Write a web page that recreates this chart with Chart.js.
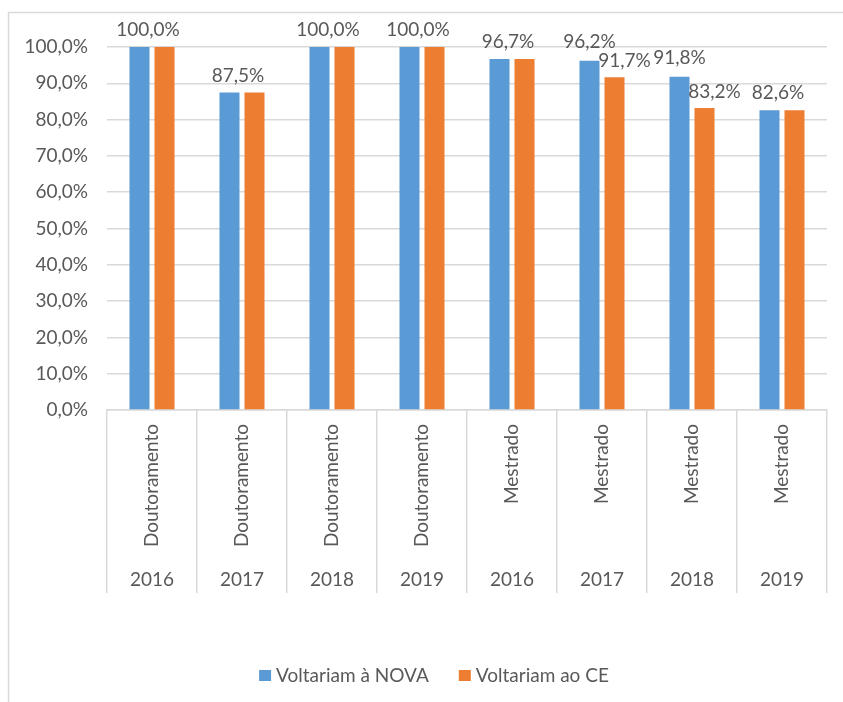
<!DOCTYPE html>
<html>
<head>
<meta charset="utf-8">
<script src="https://cdn.jsdelivr.net/npm/chart.js@4"></script>
<style>
    html, body { margin: 0; padding: 0; background: #ffffff; }
    #wrap { width: 843px; height: 702px; position: relative; }
</style>
</head>
<body>
<div id="wrap"><canvas id="chart" width="843" height="702"></canvas></div>
<script>
const degrees = ['Doutoramento', 'Doutoramento', 'Doutoramento', 'Doutoramento', 'Mestrado', 'Mestrado', 'Mestrado', 'Mestrado']
const years = ['2016', '2017', '2018', '2019', '2016', '2017', '2018', '2019']
const voltariamNova = [100, 87.5, 100, 100, 96.7, 96.2, 91.8, 82.6]
const voltariamCe = [100, 87.5, 100, 100, 96.7, 91.7, 83.2, 82.6]
const seriesNames = ['Voltariam à NOVA', 'Voltariam ao CE']

const FONT = 'Lato, "Open Sans", sans-serif'
const FONT_SIZE = 19
const TEXT_COLOR = '#595959'
const LINE_COLOR = '#D9D9D9'

function formatPercent(value) {
    return value.toFixed(1).replace('.', ',') + '%'
}

// Frame, two-level category labels, data labels and legend
const excelLook = {
    id: 'excelLook',
    beforeDraw(chart) {
        const ctx = chart.ctx
        ctx.save()
        ctx.strokeStyle = LINE_COLOR
        ctx.lineWidth = 1.5
        ctx.strokeRect(8.5, 12.5, 900, 800)
        ctx.restore()
    },
    afterDraw(chart) {
        const ctx = chart.ctx
        const x = chart.scales.x
        const area = chart.chartArea

        ctx.save()
        ctx.fillStyle = TEXT_COLOR
        ctx.font = `${FONT_SIZE}px ${FONT}`

        // category labels
        degrees.forEach((degree, i) => {
            const cx = x.getPixelForValue(i)
            ctx.save()
            ctx.translate(cx, area.bottom + 14)
            ctx.rotate(-Math.PI / 2)
            ctx.textAlign = 'right'
            ctx.textBaseline = 'middle'
            ctx.fillText(degree, 0, 0)
            ctx.restore()

            ctx.textAlign = 'center'
            ctx.textBaseline = 'middle'
            ctx.fillText(years[i], cx, area.bottom + 170)
        })

        // data labels
        const novaBars = chart.getDatasetMeta(0).data
        const ceBars = chart.getDatasetMeta(1).data
        ctx.textAlign = 'center'
        ctx.textBaseline = 'middle'
        voltariamNova.forEach((value, i) => {
            const other = voltariamCe[i]
            const blue = novaBars[i]
            const orange = ceBars[i]
            if (value === other) {
                ctx.fillText(formatPercent(value), (blue.x + orange.x) / 2 - 4, blue.y - 17)
            } else {
                ctx.fillText(formatPercent(value), blue.x, blue.y - 19)
                ctx.fillText(formatPercent(other), orange.x + 10, orange.y - 16)
            }
        })

        // legend
        const colors = chart.data.datasets.map(d => d.backgroundColor)
        const box = 12
        const gap = 5
        const spacing = 30
        const widths = seriesNames.map(name => ctx.measureText(name).width)
        const total = widths.reduce((a, w) => a + w + box + gap, 0) + spacing
        let lx = 434 - total / 2
        const ly = 676
        ctx.textAlign = 'left'
        seriesNames.forEach((name, i) => {
            ctx.fillStyle = colors[i]
            ctx.fillRect(lx, ly - 6, box, box - 1)
            ctx.fillStyle = TEXT_COLOR
            ctx.fillText(name, lx + box + gap, ly)
            lx += box + gap + widths[i] + spacing
        })
        ctx.restore()
    }
}

new Chart(document.getElementById('chart'), {
    type: 'bar',
    data: {
        labels: years.map((year, i) => degrees[i] + ' ' + year),
        datasets: [{
            label: seriesNames[0],
            data: voltariamNova,
            backgroundColor: '#5B9BD5',
            categoryPercentage: 0.556,
            barPercentage: 0.8
        }, {
            label: seriesNames[1],
            data: voltariamCe,
            backgroundColor: '#ED7D31',
            categoryPercentage: 0.556,
            barPercentage: 0.8
        }]
    },
    options: {
        responsive: false,
        animation: false,
        layout: {
            padding: { left: 0, top: 47, right: 16, bottom: 109 }
        },
        plugins: {
            legend: { display: false },
            tooltip: { enabled: false }
        },
        scales: {
            x: {
                afterFit(scale) { scale.height = 183 },
                ticks: { display: false },
                grid: {
                    offset: true,
                    drawOnChartArea: false,
                    drawTicks: true,
                    tickLength: 183,
                    color: LINE_COLOR,
                    lineWidth: 1.5
                },
                border: { display: true, color: LINE_COLOR, width: 1.5 }
            },
            y: {
                min: 0,
                max: 100,
                afterFit(scale) { scale.width = 107 },
                ticks: {
                    stepSize: 10,
                    padding: 19,
                    color: TEXT_COLOR,
                    font: { family: FONT, size: FONT_SIZE },
                    callback: value => formatPercent(value)
                },
                grid: { drawTicks: false, color: LINE_COLOR, lineWidth: 1.5 },
                border: { display: false }
            }
        }
    },
    plugins: [excelLook]
})
</script>
</body>
</html>
